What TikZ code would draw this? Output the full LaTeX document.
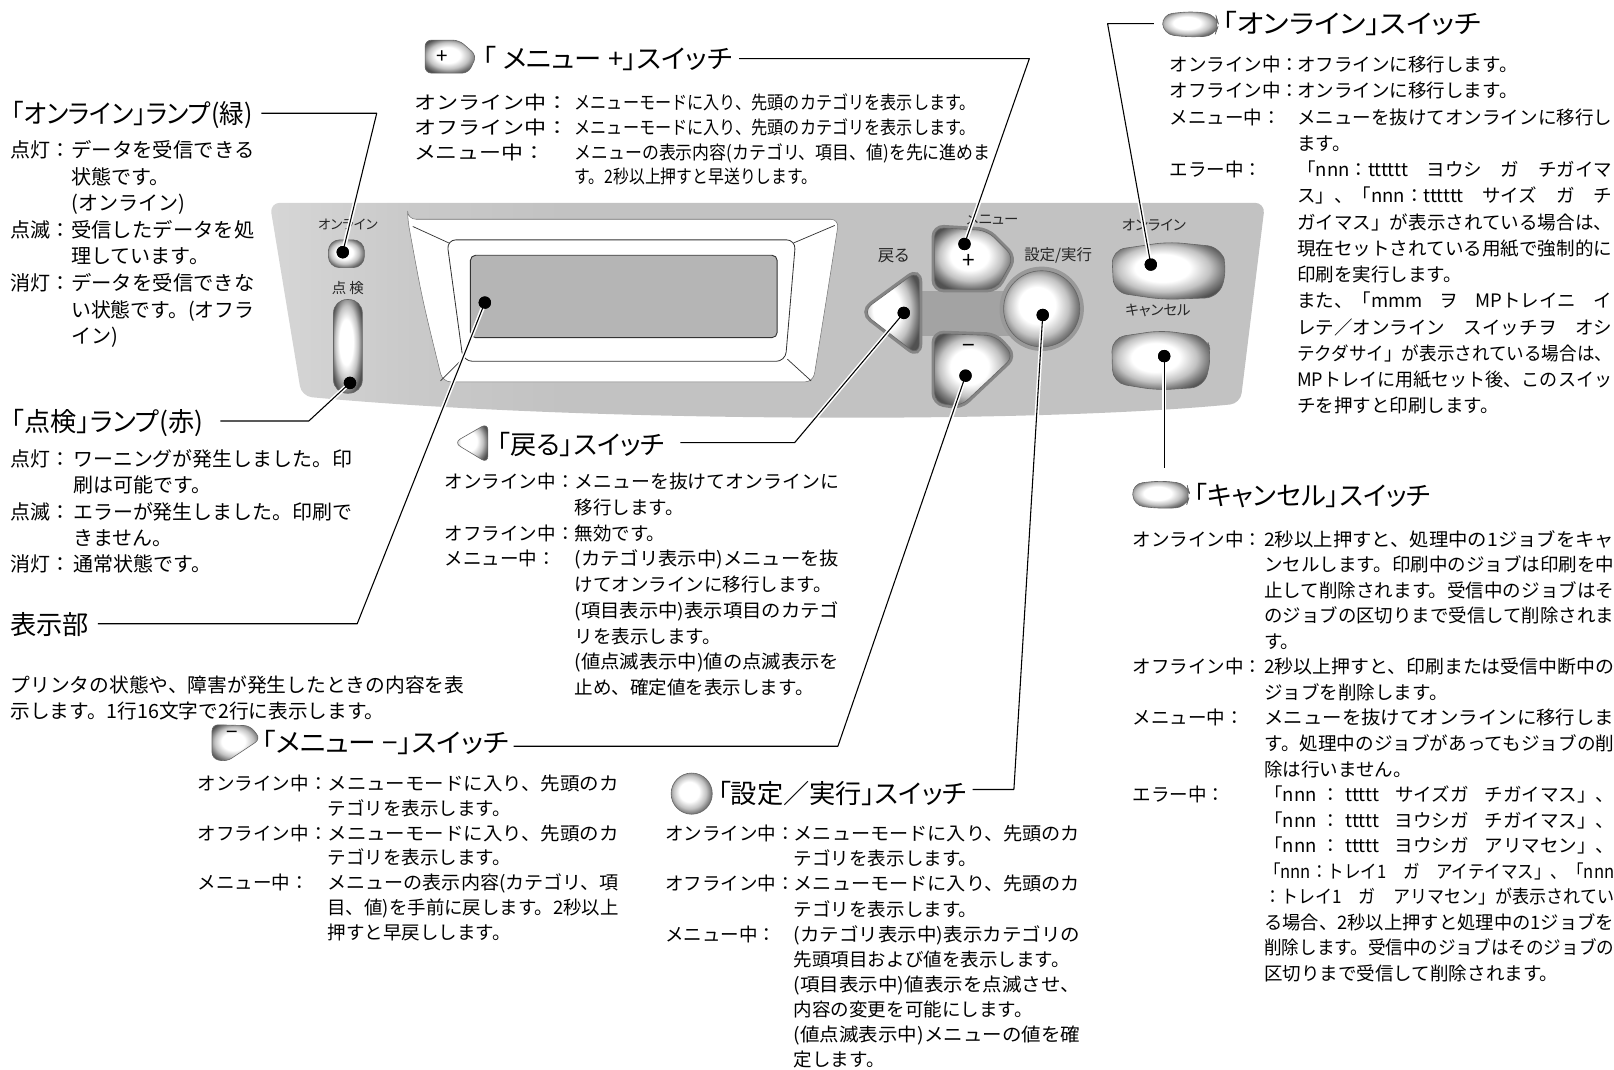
\documentclass[tikz,border=0pt]{standalone}
\usepackage{fontspec}
\usepackage{graphicx}
\setmainfont{Noto Sans CJK JP}
\newfontfamily\pfont{Noto Sans CJK JP}[RawFeature=+palt]
\usetikzlibrary{calc}

% button faces: bright centre, dark rim
\pgfdeclareradialshading{btn}{\pgfpoint{-4bp}{3bp}}{color(0bp)=(white); color(12bp)=(white); color(20bp)=(black!24); color(25bp)=(black!50); color(29bp)=(black!68); color(50bp)=(black!72)}
% panel body: lighter towards the lamp end
\pgfdeclarehorizontalshading{panelshade}{100bp}{color(0bp)=(black!16); color(25bp)=(black!16); color(32bp)=(black!21); color(40bp)=(black!24); color(100bp)=(black!24)}

% a line set to an exact width, a spread line, stretch glue, a fixed label cell
\newcommand\fw[2]{\resizebox{#1pt}{\height}{#2}}
\newcommand\jl[2]{\makebox[#1pt][s]{#2}}
\newcommand\gp[1]{\hspace{0pt plus #1fil}}
\newcommand\lb[2]{\makebox[#1pt][l]{#2}}

\tikzset{
  lead/.style={line width=1.05pt, line join=round, preaction={draw=white, line width=4pt}},
  dot/.style={circle, fill=black, inner sep=0pt, minimum size=12pt},
  hd/.style={anchor=base west, inner sep=0pt, font=\pfont\fontsize{25.5pt}{30pt}\selectfont},
  bd/.style={anchor=base west, inner sep=0pt},
  plab/.style={inner sep=0pt, font=\pfont\fontsize{14pt}{16pt}\selectfont, text=black!85},
  face/.style={shading=btn, draw=black!60, line width=0.6pt},
  ring/.style={draw=black!48, line width=6pt},
}

\begin{document}
\begin{tikzpicture}[x=1pt,y=-1pt]
\useasboundingbox (0,0) rectangle (1568,1039);

% ---------- control panel ----------
\shade[shading=panelshade, rounded corners=10pt] (262,197) -- (1229,197) -- (1205,392) .. controls (1000,412) and (560,410) .. (293,385) -- cycle;

% display bezel
\fill[white, rounded corners=8pt] (396,213) -- (815,213) .. controls (803,290) .. (790,371) -- (430,371) .. controls (410,290) .. (396,213) -- cycle;
\draw[black!55, line width=0.5pt, rounded corners=8pt] (396,213) -- (815,213) .. controls (803,290) .. (790,371) -- (430,371) .. controls (410,290) .. (396,213) -- cycle;
\draw[black!80, line width=0.8pt, rounded corners=9pt] (434,233) -- (773,233) -- (763,351) -- (450,351) -- cycle;
\draw[fill=black!29, draw=black!80, line width=0.9pt, rounded corners=5pt] (457,248) rectangle (755,328);
\draw[black!80, line width=0.7pt] (401,220) -- (436,236);
\draw[black!80, line width=0.7pt] (428,370) -- (449,349);
\draw[black!80, line width=0.7pt] (771,236) -- (811,219);
\draw[black!80, line width=0.7pt] (765,349) -- (788,370);

% lamps
\node[plab, font=\pfont\fontsize{13pt}{15pt}\selectfont] (lOn) at (338,218) {オンライン};
\node[plab] (lChk) at (338,280) {点\hspace{3pt}検};
\shade[face, rounded corners=11pt] (319,233) rectangle (354,260);
\shade[face, rounded corners=13pt] (324,291) rectangle (352,382);

% cross keys
\fill[black!36] (896,283) rectangle (982,326);
\node[plab, font=\pfont\fontsize{16pt}{18pt}\selectfont] (lBack) at (868,248) {戻る};
\node[plab] (lMenu) at (964,213) {メニュー};
\node[plab, font=\pfont\fontsize{15pt}{17pt}\selectfont] (lSet) at (1028,248) {設定/実行};
\path[ring, rounded corners=12pt] (837,303) -- (893,262) -- (893,346) -- cycle;
\shade[face, rounded corners=12pt] (837,303) -- (893,262) -- (893,346) -- cycle;
\path[ring, rounded corners=9pt] (908,221) -- (959,224) -- (985,250) -- (968,281) -- (908,281) -- cycle;
\shade[face, rounded corners=9pt] (908,221) -- (959,224) -- (985,250) -- (968,281) -- (908,281) -- cycle;
\path[ring, rounded corners=9pt] (908,324) -- (967,326) -- (985,346) -- (933,395) -- (908,391) -- cycle;
\shade[face, rounded corners=9pt] (908,324) -- (967,326) -- (985,346) -- (933,395) -- (908,391) -- cycle;
\fill[black!40] (1012,300) circle (41);
\shade[face] (1012,300) circle (37);
\node[inner sep=0pt, font=\fontsize{22pt}{22pt}\selectfont] (kPlus) at (941,254) {+};
\node[inner sep=0pt, font=\fontsize{22pt}{22pt}\selectfont] (kMinus) at (941,339) {−};

% online and cancel keys
\node[plab] (lOnSw) at (1121,219) {オンライン};
\node[plab] (lCan) at (1125,302) {キャンセル};
\shade[face, rounded corners=13pt] (1080,243) -- (1135,235) -- (1186,240) -- (1192,262) -- (1184,289) -- (1130,291) -- (1082,284) -- cycle;
\shade[face, rounded corners=13pt] (1080,328) -- (1128,321) -- (1172,327) -- (1177,345) -- (1170,376) -- (1124,379) -- (1081,372) -- cycle;

% ---------- heading icons ----------
\shade[face, rounded corners=6pt] (413,39) -- (446,39) -- (463,54) -- (455,71) -- (413,71) -- cycle;
\node[inner sep=0pt, font=\fontsize{20pt}{20pt}\selectfont] (iPlus) at (430,55) {+};
\shade[face, rounded corners=7pt] (441,430) -- (474,411) -- (474,450) -- cycle;
\shade[face, rounded corners=10pt] (1129,14) -- (1158,11) -- (1181,14) -- (1184,24) -- (1180,35) -- (1153,36) -- (1130,33) -- cycle;
\shade[face, rounded corners=10pt] (1100,470) -- (1128,467) -- (1153,470) -- (1156,481) -- (1152,493) -- (1126,494) -- (1101,491) -- cycle;
\shade[face, rounded corners=6pt] (206,704) -- (243,705) -- (253,718) -- (220,740) -- (206,737) -- cycle;
\node[inner sep=0pt, font=\fontsize{20pt}{20pt}\selectfont] (iMinus) at (226,714) {−};
\shade[face] (672,771) circle (20);

% ---------- headings ----------
\node[hd] (hA) at (11,120.4) {\fw{234}{「オンライン」ランプ(緑)}};
\node[hd] (hB) at (11,419.4) {\fw{186}{「点検」ランプ(赤)}};
\node[hd] (hC) at (10,616.4) {表示部};
\node[hd] (hD) at (483,441.4) {「戻る」スイッチ};
\node[hd] (hE) at (469,66.4) {\fw{242}{「 メニュー +」スイッチ}};
\node[hd] (hF) at (1187,32.4) {\fw{252}{「オンライン」スイッチ}};
\node[hd] (hG) at (1160,491.4) {「キャンセル」スイッチ};
\node[hd] (hH) at (254,731.4) {\fw{240}{「メニュー −」スイッチ}};
\node[hd] (hI) at (697,780.4) {「設定／実行」スイッチ};

% ---------- descriptions ----------
\node[bd, font=\fontsize{19.5pt}{25.8pt}\selectfont] (tA) at (10,153.2) {\begin{tabular}[t]{@{}l@{}l@{}}
\lb{59}{点灯：}&\fw{178}{データを受信できる}\\
&状態です。\\
&(オンライン)\\
\lb{59}{点滅：}&\fw{178}{受信したデータを処}\\
&理しています。\\
\lb{59}{消灯：}&\fw{178}{データを受信できな}\\
&\fw{178}{い状態です。(オフラ}\\
&イン)
\end{tabular}};

\node[bd, font=\fontsize{19.4pt}{25.6pt}\selectfont] (tB) at (10,453.2) {\begin{tabular}[t]{@{}l@{}l@{}}
\lb{61}{点灯：}&\fw{271}{ワーニングが発生しました。印}\\
&刷は可能です。\\
\lb{61}{点滅：}&\fw{271}{エラーが発生しました。印刷で}\\
&きません。\\
\lb{61}{消灯：}&通常状態です。
\end{tabular}};

\node[bd, font=\fontsize{19.1pt}{25pt}\selectfont] (tC) at (10,673.1) {\begin{tabular}[t]{@{}l@{}}
\fw{441}{プリンタの状態や、障害が発生したときの内容を表}\\
示します。1行16文字で2行に表示します。
\end{tabular}};

\node[bd, font=\fontsize{18pt}{25pt}\selectfont] (tD) at (432,474.7) {\begin{tabular}[t]{@{}l@{}l@{}}
\lb{126}{オンライン中：}&\fw{257}{メニューを抜けてオンラインに}\\
&移行します。\\
\lb{126}{オフライン中：}&無効です。\\
\lb{126}{メニュー中：}&\fw{257}{(カテゴリ表示中)メニューを抜}\\
&けてオンラインに移行します。\\
&\fw{257}{(項目表示中)表示項目のカテゴ}\\
&リを表示します。\\
&\fw{257}{(値点滅表示中)値の点滅表示を}\\
&止め、確定値を表示します。
\end{tabular}};

\node[bd, font=\fontsize{18pt}{24pt}\selectfont] (tE) at (402,106.7) {\begin{tabular}[t]{@{}l@{}l@{}}
\lb{156}{\fw{150}{オンライン中：}}&\fw{390}{メニューモードに入り、先頭のカテゴリを表示します。}\\
\lb{156}{\fw{150}{オフライン中：}}&\fw{390}{メニューモードに入り、先頭のカテゴリを表示します。}\\
\lb{156}{\fw{128}{メニュー中：}}&\fw{404}{メニューの表示内容(カテゴリ、項目、値)を先に進めま}\\
&\fw{236}{す。2秒以上押すと早送りします。}
\end{tabular}};

\node[bd, font=\fontsize{18pt}{25.5pt}\selectfont] (tF) at (1136,69.7) {\begin{tabular}[t]{@{}l@{}l@{}}
\lb{124}{オンライン中：}&オフラインに移行します。\\
\lb{124}{オフライン中：}&オンラインに移行します。\\
\lb{124}{メニュー中：}&\fw{306}{メニューを抜けてオンラインに移行し}\\
&ます。\\
\lb{124}{エラー中：}&\jl{306}{「nnn：tttttt\gp{1}ヨウシ\gp{1}ガ\gp{1}チガイマ}\\
&\jl{306}{ス」、「nnn：tttttt\gp{1}サイズ\gp{1}ガ\gp{1}チ}\\
&\fw{306}{ガイマス」が表示されている場合は、}\\
&\fw{306}{現在セットされている用紙で強制的に}\\
&印刷を実行します。\\
&\jl{306}{また、「mmm\gp{1}ヲ\gp{1}MPトレイニ\gp{1}イ}\\
&\jl{306}{レテ／オンライン\gp{1}スイッチヲ\gp{1}オシ}\\
&\fw{306}{テクダサイ」が表示されている場合は、}\\
&\fw{306}{MPトレイに用紙セット後、このスイッ}\\
&チを押すと印刷します。
\end{tabular}};

\node[bd, font=\fontsize{18pt}{24.8pt}\selectfont] (tG) at (1100,530.7) {\begin{tabular}[t]{@{}l@{}l@{}}
\lb{128}{オンライン中：}&\fw{340}{2秒以上押すと、処理中の1ジョブをキャ}\\
&\fw{340}{ンセルします。印刷中のジョブは印刷を中}\\
&\fw{340}{止して削除されます。受信中のジョブはそ}\\
&\fw{340}{のジョブの区切りまで受信して削除されま}\\
&す。\\
\lb{128}{オフライン中：}&\fw{340}{2秒以上押すと、印刷または受信中断中の}\\
&ジョブを削除します。\\
\lb{128}{メニュー中：}&\fw{340}{メニューを抜けてオンラインに移行しま}\\
&\fw{340}{す。処理中のジョブがあってもジョブの削}\\
&除は行いません。\\
\lb{128}{エラー中：}&\jl{340}{「nnn\gp{1}：\gp{1}ttttt\gp{3}サイズガ\gp{3}チガイマス」、}\\
&\jl{340}{「nnn\gp{1}：\gp{1}ttttt\gp{3}ヨウシガ\gp{3}チガイマス」、}\\
&\jl{340}{「nnn\gp{1}：\gp{1}ttttt\gp{3}ヨウシガ\gp{3}アリマセン」、}\\
&\fw{340}{「nnn：トレイ1　ガ　アイテイマス」、「nnn}\\
&\fw{340}{：トレイ1　ガ　アリマセン」が表示されてい}\\
&\fw{340}{る場合、2秒以上押すと処理中の1ジョブを}\\
&\fw{340}{削除します。受信中のジョブはそのジョブの}\\
&区切りまで受信して削除されます。
\end{tabular}};

\node[bd, font=\fontsize{18pt}{24.2pt}\selectfont] (tH) at (192,767.7) {\begin{tabular}[t]{@{}l@{}l@{}}
\lb{126}{オンライン中：}&\fw{283}{メニューモードに入り、先頭のカ}\\
&テゴリを表示します。\\
\lb{126}{オフライン中：}&\fw{283}{メニューモードに入り、先頭のカ}\\
&テゴリを表示します。\\
\lb{126}{メニュー中：}&\fw{283}{メニューの表示内容(カテゴリ、項}\\
&\fw{283}{目、値)を手前に戻します。2秒以上}\\
&押すと早戻しします。
\end{tabular}};

\node[bd, font=\fontsize{18pt}{24.4pt}\selectfont] (tI) at (646,816.7) {\begin{tabular}[t]{@{}l@{}l@{}}
\lb{125}{オンライン中：}&\fw{278}{メニューモードに入り、先頭のカ}\\
&テゴリを表示します。\\
\lb{125}{オフライン中：}&\fw{278}{メニューモードに入り、先頭のカ}\\
&テゴリを表示します。\\
\lb{125}{メニュー中：}&\fw{278}{(カテゴリ表示中)表示カテゴリの}\\
&先頭項目および値を表示します。\\
&\fw{278}{(項目表示中)値表示を点滅させ、}\\
&内容の変更を可能にします。\\
&\fw{278}{(値点滅表示中)メニューの値を確}\\
&定します。
\end{tabular}};

% ---------- leader lines ----------
\node[dot] (dA) at (333,245) {};
\node[dot] (dB) at (340,372) {};
\node[dot] (dC) at (471,294) {};
\node[dot] (dD) at (878,304) {};
\node[dot] (dE) at (937,237) {};
\node[dot] (dF) at (1118,257) {};
\node[dot] (dG) at (1131,346) {};
\node[dot] (dH) at (938,365) {};
\node[dot] (dI) at (1013,306) {};

\coordinate (a1) at (254,110);  \coordinate (a2) at (366,110);
\coordinate (b1) at (214,409);  \coordinate (b2) at (300,409);
\coordinate (c1) at (95,606);   \coordinate (c2) at (347,606);
\coordinate (e1) at (661,430);  \coordinate (e2) at (772,430);
\coordinate (p1) at (718,57);   \coordinate (p2) at (1000,57);
\coordinate (o1) at (1121,23);  \coordinate (o2) at (1076,23);
\coordinate (g1) at (1131,455);
\coordinate (m1) at (499,725);  \coordinate (m2) at (814,725);
\coordinate (s1) at (945,767);  \coordinate (s2) at (985,767);

\draw[lead] (a1) -- (a2) -- (dA.center);
\draw[lead] (b1) -- (b2) -- (dB.center);
\draw[lead] (c1) -- (c2) -- (dC.center);
\draw[lead] (e1) -- (e2) -- (dD.center);
\draw[lead] (p1) -- (p2) -- (dE.center);
\draw[lead] (o1) -- (o2) -- (dF.center);
\draw[lead] (dG.center) -- (g1);
\draw[lead] (m1) -- (m2) -- (dH.center);
\draw[lead] (s1) -- (s2) -- (dI.center);

\foreach \d in {dA,dB,dC,dD,dE,dF,dG,dH,dI} \fill (\d) circle (6);
\end{tikzpicture}
\end{document}
